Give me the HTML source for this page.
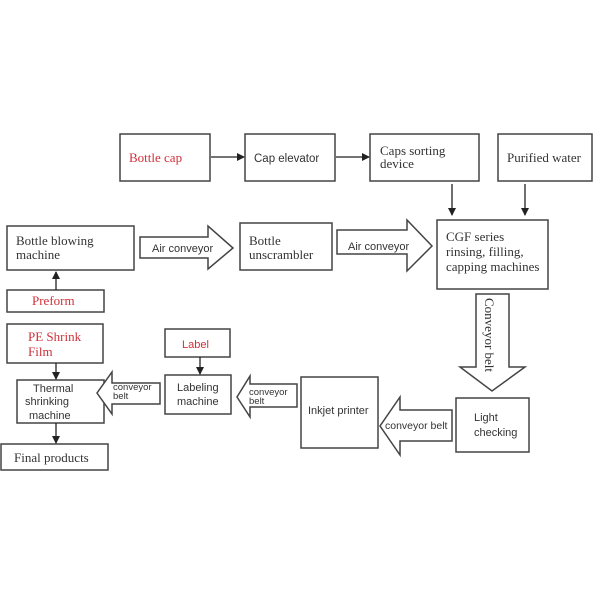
<!DOCTYPE html>
<html><head><style>body{margin:0;background:#fff}svg{display:block}</style></head><body>
<svg width="600" height="600" xmlns="http://www.w3.org/2000/svg">
<defs><marker id="a" markerWidth="8" markerHeight="8" refX="7" refY="4" orient="auto" markerUnits="userSpaceOnUse"><path d="M0,0L8,4L0,8z" fill="#222"/></marker></defs>
<g fill="#fff" stroke="#444" stroke-width="1.5">
<rect x="120" y="134" width="90" height="47"/>
<rect x="245" y="134" width="90" height="47"/>
<rect x="370" y="134" width="109" height="47"/>
<rect x="498" y="134" width="94" height="47"/>
<rect x="437" y="220" width="111" height="69"/>
<rect x="7" y="226" width="127" height="44"/>
<rect x="240" y="223" width="92" height="47"/>
<rect x="7" y="290" width="97" height="22"/>
<rect x="456" y="398" width="73" height="54"/>
<rect x="301" y="377" width="77" height="71"/>
<rect x="165" y="375" width="66" height="39"/>
<rect x="165" y="329" width="65" height="28"/>
<rect x="17" y="380" width="87" height="43"/>
<rect x="7" y="324" width="96" height="39"/>
<rect x="1" y="444" width="107" height="26"/>
<path d="M140,237H208V226L233,248L208,269V258H140Z"/>
<path d="M337,230H407V220L432,246L407,271V254H337Z"/>
<path d="M476,294H509V367H525L492,391L460,367H476Z"/>
<path d="M452,410H400V397L380,426L400,455V441H452Z"/>
<path d="M297,384H250V376L237,397L250,417V407H297Z"/>
<path d="M160,383H112V372L97,393L112,414V404H160Z"/>
</g>
<g stroke="#222" stroke-width="1.3" fill="none" marker-end="url(#a)">
<line x1="211" y1="157" x2="244" y2="157"/>
<line x1="336" y1="157" x2="369" y2="157"/>
<line x1="452" y1="184" x2="452" y2="215"/>
<line x1="525" y1="184" x2="525" y2="215"/>
<line x1="56" y1="290" x2="56" y2="272"/>
<line x1="200" y1="357" x2="200" y2="374"/>
<line x1="56" y1="363" x2="56" y2="379"/>
<line x1="56" y1="423" x2="56" y2="443"/>
</g>
<g font-family="Liberation Serif, serif" font-size="13" fill="#333">
<text x="129" y="162" fill="#d0303a">Bottle cap</text>
<text x="380" y="155">Caps sorting</text><text x="380" y="168">device</text>
<text x="507" y="162">Purified water</text>
<text x="446" y="241">CGF series</text><text x="446" y="256">rinsing, filling,</text><text x="446" y="271">capping machines</text>
<text x="16" y="245">Bottle blowing</text><text x="16" y="259">machine</text>
<text x="249" y="245">Bottle</text><text x="249" y="259">unscrambler</text>
<text x="32" y="305" fill="#d0303a">Preform</text>
<text x="28" y="341" fill="#d0303a">PE Shrink</text><text x="28" y="356" fill="#d0303a">Film</text>
<text x="14" y="462">Final products</text>
<text x="485" y="298" transform="rotate(90 485 298)">Conveyor belt</text>
</g>
<g font-family="Liberation Sans, sans-serif" fill="#333">
<text x="254" y="162" font-size="11.5">Cap elevator</text>
<text x="152" y="252" font-size="11">Air conveyor</text>
<text x="348" y="250" font-size="11">Air conveyor</text>
<text x="474" y="421" font-size="11">Light</text><text x="474" y="436" font-size="11">checking</text>
<text x="308" y="414" font-size="11">Inkjet printer</text>
<text x="385" y="429" font-size="10.5">conveyor belt</text>
<text x="182" y="348" font-size="11" fill="#d0303a">Label</text>
<text x="177" y="391" font-size="11">Labeling</text><text x="177" y="405" font-size="11">machine</text>
<text x="249" y="395" font-size="9.5">conveyor</text><text x="249" y="404" font-size="9.5">belt</text>
<text x="113" y="390" font-size="9.5">conveyor</text><text x="113" y="399" font-size="9.5">belt</text>
<text x="33" y="392" font-size="11">Thermal</text><text x="25" y="405" font-size="11">shrinking</text><text x="29" y="419" font-size="11">machine</text>
</g>
</svg>
</body></html>
